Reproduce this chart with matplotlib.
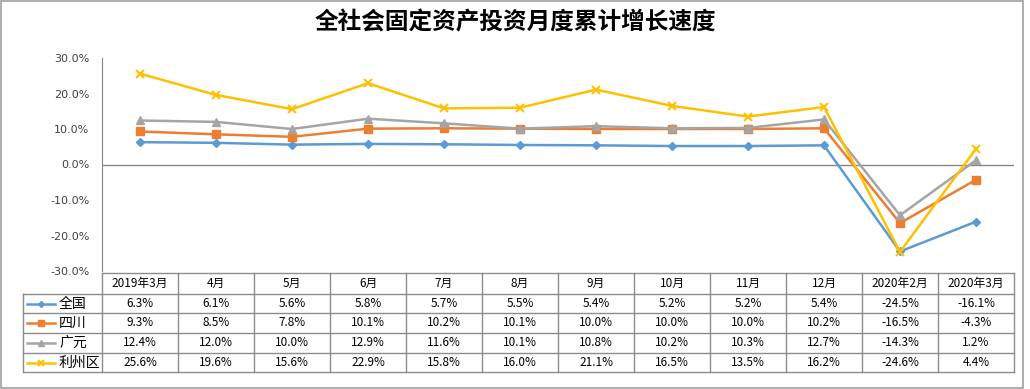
import numpy as np
import matplotlib
matplotlib.use("Agg")
import matplotlib.pyplot as plt
from matplotlib.patches import Rectangle
from matplotlib.lines import Line2D

plt.rcParams['font.family'] = ['Noto Sans CJK SC', 'DejaVu Sans']

months = ["2019年3月", "4月", "5月", "6月", "7月", "8月", "9月", "10月",
          "11月", "12月", "2020年2月", "2020年3月"]
quanguo = [6.3, 6.1, 5.6, 5.8, 5.7, 5.5, 5.4, 5.2, 5.2, 5.4, -24.5, -16.1]
sichuan = [9.3, 8.5, 7.8, 10.1, 10.2, 10.1, 10.0, 10.0, 10.0, 10.2, -16.5, -4.3]
guangyuan = [12.4, 12.0, 10.0, 12.9, 11.6, 10.1, 10.8, 10.2, 10.3, 12.7, -14.3, 1.2]
lizhou = [25.6, 19.6, 15.6, 22.9, 15.8, 16.0, 21.1, 16.5, 13.5, 16.2, -24.6, 4.4]

series = [("全国", quanguo, "#5B9BD5", "D", 4),
          ("四川", sichuan, "#ED7D31", "s", 6),
          ("广元", guangyuan, "#A5A5A5", "^", 6),
          ("利州区", lizhou, "#FFC000", "x", 6)]

W, H = 1030, 389
fig = plt.figure(figsize=(W / 100, H / 100), dpi=100)

def fx(px):
    return px / W

def fy(py):
    return 1 - py / H

# chart area
x0, x1 = 102, 1014
ytop, ybot = 58, 271
ax = fig.add_axes([fx(x0), fy(ybot), fx(x1) - fx(x0), fy(ytop) - fy(ybot)])
x = np.arange(len(months))
for name, vals, col, mk, ms in series:
    ax.plot(x, vals, color=col, marker=mk, markersize=ms, lw=1.8,
            markeredgewidth=1.5 if mk == "x" else 1, zorder=3)
ax.axhline(0, color="#868686", lw=1, zorder=1)
ax.set_xlim(-0.5, len(months) - 0.5)
ax.set_ylim(-30, 30)
ax.set_yticks(np.arange(-30, 31, 10))
ax.set_yticklabels([f"{v:.1f}%" for v in np.arange(-30, 31, 10)], fontsize=8,
                   family=["DejaVu Sans"])
ax.tick_params(axis="y", length=0, pad=9, colors="#404040")
ax.tick_params(axis="x", bottom=False, labelbottom=False)
for s in ["top", "right", "bottom"]:
    ax.spines[s].set_visible(False)
ax.spines["left"].set_color("#868686")

# data table
tl = 23.3
row_y = [272.7, 294, 313.3, 332.7, 352.7, 372.3]
tax = fig.add_axes([0, 0, 1, 1])
tax.set_xlim(0, W)
tax.set_ylim(H, 0)
tax.axis("off")
colw = (x1 - x0) / len(months)
lc = "#8c8c8c"
# header row
tax.plot([x0, x1], [row_y[0], row_y[0]], color=lc, lw=1)
for i in range(1, 6):
    tax.plot([tl, x1], [row_y[i], row_y[i]], color=lc, lw=1)
for j in range(len(months) + 1):
    xx = x0 + j * colw
    tax.plot([xx, xx], [row_y[0], row_y[-1]], color=lc, lw=1)
tax.plot([tl, tl], [row_y[1], row_y[-1]], color=lc, lw=1)
for j, m in enumerate(months):
    tax.text(x0 + (j + 0.5) * colw, (row_y[0] + row_y[1]) / 2, m,
             ha="center", va="center", fontsize=8.5)
for i, (name, vals, col, mk, ms) in enumerate(series):
    yc = (row_y[i + 1] + row_y[i + 2]) / 2
    tax.add_line(Line2D([27, 55], [yc, yc], color=col, lw=1.8))
    tax.plot([41], [yc], marker=mk, color=col, markersize=ms - 1,
             markeredgewidth=1.5 if mk == "x" else 1)
    tax.text(59, yc, name, ha="left", va="center", fontsize=10)
    for j, v in enumerate(vals):
        tax.text(x0 + (j + 0.5) * colw, yc, f"{v:.1f}%", ha="center",
                 va="center", fontsize=8.5)

# title and outer border
fig.text(0.5, fy(22), "全社会固定资产投资月度累计增长速度", ha="center",
         va="center", fontsize=17, fontweight="bold")
fig.patches.append(Rectangle((fx(1), fy(387.5)), fx(1023) - fx(1), fy(1) - fy(387.5),
                             transform=fig.transFigure, fill=False,
                             edgecolor="#a0a0a0", lw=1.2))

fig.savefig("out.png", dpi=100)
